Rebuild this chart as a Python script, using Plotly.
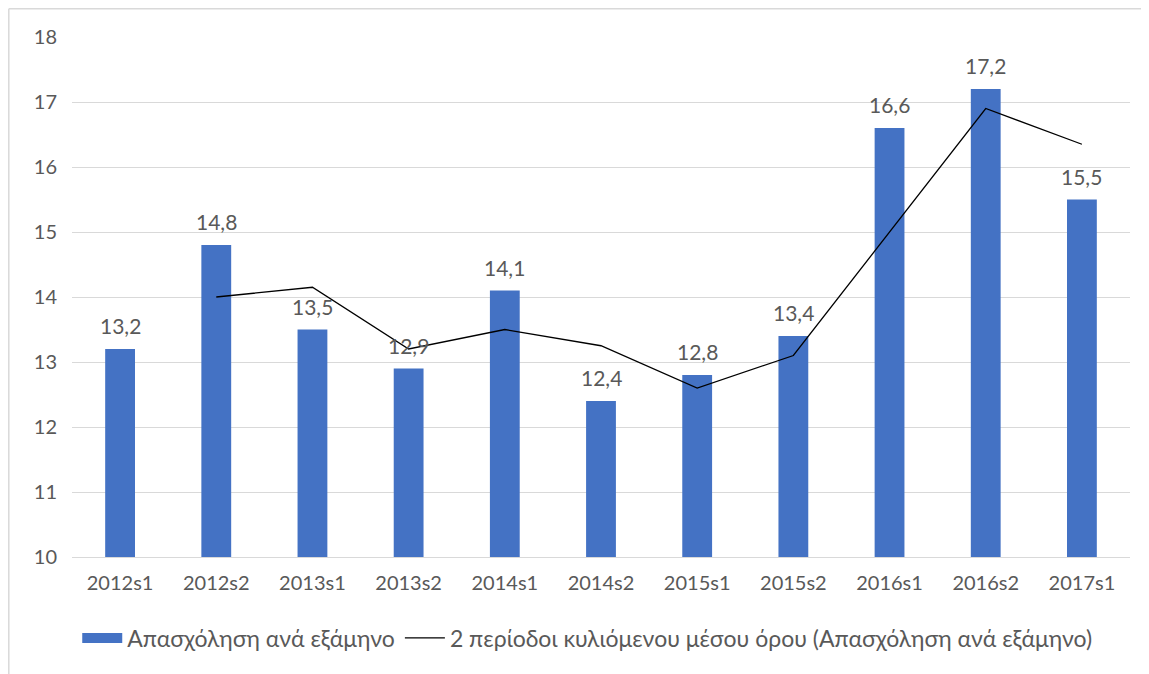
import plotly.graph_objects as go

categories = ["2012s1", "2012s2", "2013s1", "2013s2", "2014s1", "2014s2",
              "2015s1", "2015s2", "2016s1", "2016s2", "2017s1"]
employment = [13.2, 14.8, 13.5, 12.9, 14.1, 12.4, 12.8, 13.4, 16.6, 17.2, 15.5]
moving_avg = [None, 14.0, 14.15, 13.2, 13.5, 13.25, 12.6, 13.1, 15.0, 16.9, 16.35]
bar_name = "Απασχόληση ανά εξάμηνο"
line_name = "2 περίοδοι κυλιόμενου μέσου όρου (Απασχόληση ανά εξάμηνο)"

font = "Lato, 'Open Sans', sans-serif"
gray = "#595959"
blue = "#4472C4"

fig = go.Figure()
fig.add_trace(go.Bar(x=categories, y=employment, name=bar_name, showlegend=False,
                     legendgroup="bars", marker=dict(color=blue, line=dict(width=0))))
# legend swatch for the bars (wide rectangle like the original)
fig.add_trace(go.Scatter(x=[categories[0]], y=[None], name=bar_name, mode="lines",
                         legendgroup="bars", line=dict(color=blue, width=13)))
fig.add_trace(go.Scatter(x=categories, y=moving_avg, name=line_name, mode="lines",
                         line=dict(color="black", width=1.3)))

for c, v in zip(categories, employment):
    fig.add_annotation(x=c, y=v, text=f"{v:.1f}".replace(".", ","), showarrow=False,
                       yanchor="bottom", yshift=9, font=dict(size=21, color=gray, family=font))

L, R, T, B = 64, 27, 29, 125
PW, PH = 1149 - L - R, 674 - T - B
bx = (0.8 - L) / PW
by = 1 + (T - 0.8) / PH
border = dict(color="#d9d9d9", width=1.5)
fig.add_shape(type="line", xref="paper", yref="paper", x0=bx, x1=1.3, y0=by, y1=by,
              line=border, layer="below")
fig.add_shape(type="line", xref="paper", yref="paper", x0=bx, x1=bx, y0=by, y1=-0.5,
              line=border, layer="below")

fig.update_layout(
    width=1149, height=674,
    margin=dict(l=L, r=R, t=T, b=B),
    paper_bgcolor="white", plot_bgcolor="white",
    font=dict(family=font, color=gray, size=20),
    bargap=0.69,
    showlegend=True,
    legend=dict(orientation="h", x=0.487, xanchor="center", y=-81 / PH, yanchor="middle",
                font=dict(size=23, color=gray, family=font), itemwidth=40,
                traceorder="normal"),
    yaxis=dict(range=[10, 18], dtick=1, showgrid=True, gridcolor="#d9d9d9", gridwidth=1.3,
               zeroline=False, showline=False, ticks="", ticklabelstandoff=14,
               tickfont=dict(size=20, color=gray)),
    xaxis=dict(showline=True, linecolor="#d9d9d9", linewidth=1.3, ticks="",
               tickfont=dict(size=20, color=gray), ticklabelstandoff=8),
)

fig.write_html("out.html")
